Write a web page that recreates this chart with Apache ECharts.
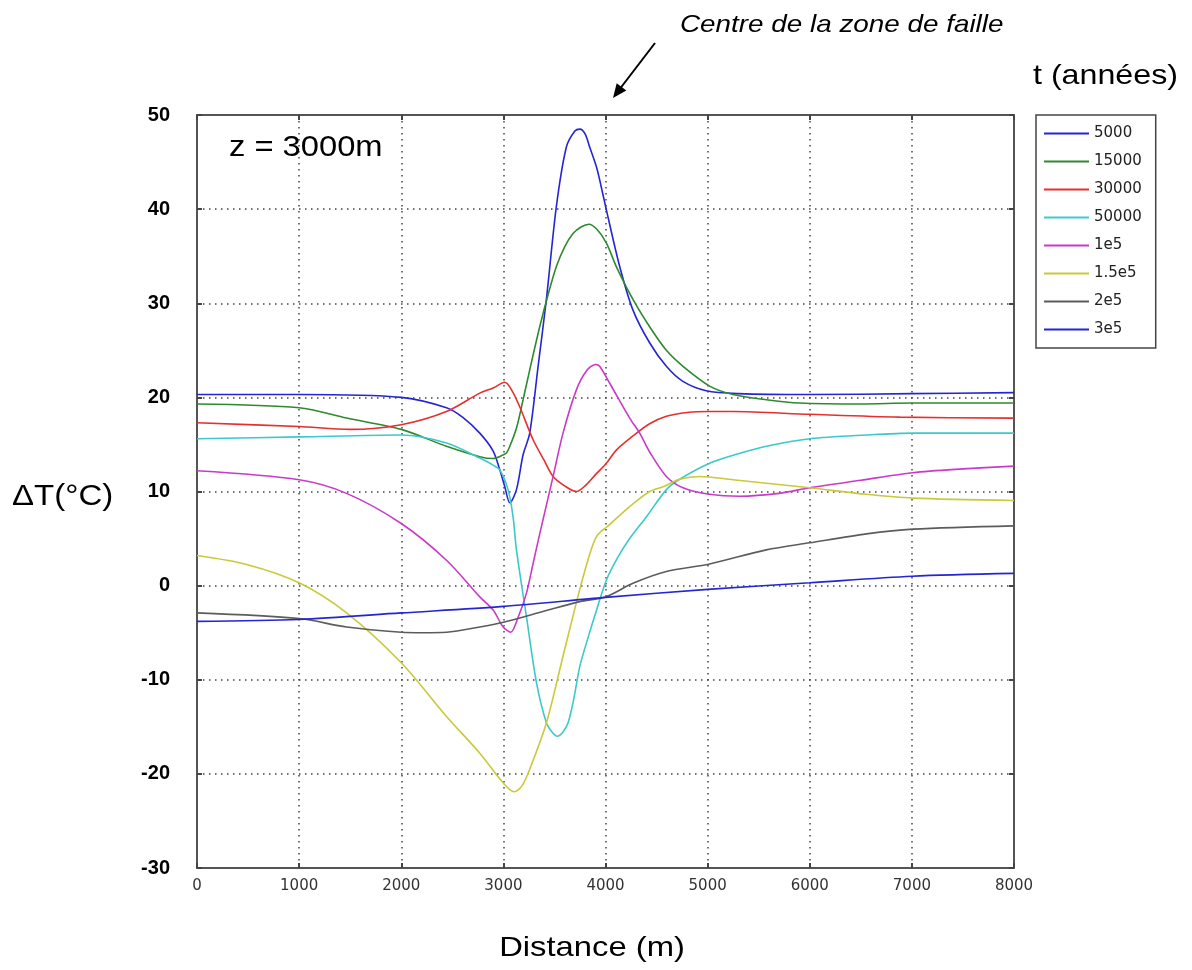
<!DOCTYPE html>
<html>
<head>
<meta charset="utf-8">
<script src="https://cdn.jsdelivr.net/npm/echarts@6/dist/echarts.min.js"></script>
<style>
html,body{margin:0;padding:0;background:#fff;}
#chart{width:1192px;height:970px;}
</style>
</head>
<body>
<div id="chart"></div>
<script>
// ---- data (x in m, ΔT in °C) ----
const seriesNames = ['5000','15000','30000','50000','1e5','1.5e5','2e5','3e5'];
const seriesColors = ['#2525d4','#2e8a2e','#e5302e','#3cc9c9','#c93ac9','#c9c93b','#5c5c5c','#2525d4'];

const x5000 = [0,1000,2000,2443,2600,2769,2900,2965,3014,3063,3128,3193,3258,3340,3421,3519,3617,3700,3748,3800,3845,3911,3943,4009,4139,4268,4432,4596,4758,4987,5300,6000,7000,8000];
const y5000 = [20.3,20.3,20.0,18.9,17.9,16.2,14.3,12.3,10.5,8.8,10.2,13.9,16.2,23.3,30.4,40.3,46.6,48.3,48.5,48.0,46.6,44.5,43.1,39.9,33.9,29.3,25.8,23.3,21.7,20.7,20.4,20.3,20.4,20.5];

const x15000 = [0,1000,1465,2000,2443,2769,2900,2981,3030,3063,3130,3193,3270,3356,3440,3519,3600,3682,3760,3839,3920,4009,4106,4269,4432,4596,4759,5020,5248,5574,5900,6500,7000,8000];
const y15000 = [19.3,18.9,17.8,16.6,14.8,13.7,13.5,13.8,14.1,14.8,16.8,19.75,23.5,27.5,31.0,33.9,36.0,37.4,38.1,38.4,37.8,36.4,33.9,30.4,27.5,25.0,23.3,21.2,20.3,19.75,19.4,19.3,19.4,19.4];

const x30000 = [0,1000,1500,2000,2443,2769,2900,3014,3080,3160,3291,3400,3487,3600,3715,3800,3911,4009,4106,4269,4432,4596,4800,5020,5248,6000,6880,8000];
const y30000 = [17.3,16.9,16.6,17.1,18.5,20.45,21.0,21.6,20.8,19.0,15.5,13.3,11.6,10.6,10.0,10.6,11.9,13.0,14.4,15.9,17.2,18.0,18.4,18.5,18.5,18.2,17.9,17.8];

const x50000 = [0,1000,2000,2443,2769,2900,2965,3046,3095,3128,3226,3324,3422,3480,3529,3580,3633,3690,3748,3830,3911,4009,4120,4237,4400,4596,4726,5020,5300,5574,6000,6555,7010,8000];
const y50000 = [15.6,15.8,16.0,15.15,13.55,12.8,12.3,10.2,7.3,3.8,-3.3,-10.3,-14.6,-15.6,-16.0,-15.6,-14.6,-12.0,-8.6,-5.5,-2.65,0.6,3.0,5.0,7.3,10.2,11.3,13.0,14.0,14.8,15.6,16.0,16.2,16.2];

const x1e5 = [0,1000,1465,2000,2443,2769,2900,2998,3072,3140,3226,3290,3356,3487,3584,3715,3820,3904,3943,4041,4237,4335,4432,4596,4759,5020,5313,5700,6000,6500,7010,7500,8000];
const y1e5 = [12.2,11.25,9.8,6.6,2.7,-1.2,-2.6,-4.4,-4.95,-3.5,-0.8,2.3,5.5,11.6,16.2,20.8,22.9,23.5,23.3,21.5,17.8,16.2,14.2,11.6,10.4,9.7,9.5,9.8,10.4,11.2,12.0,12.4,12.7];

const x15e5 = [0,486,1000,1465,2000,2443,2769,2998,3105,3180,3258,3421,3584,3748,3850,3911,3960,4009,4237,4432,4563,4726,4922,5248,6000,6555,7010,8000];
const y15e5 = [3.2,2.25,0.3,-2.9,-8.2,-13.9,-17.8,-20.95,-21.9,-21.3,-19.5,-14.6,-7.5,-0.4,3.5,5.2,5.8,6.2,8.4,10.0,10.5,11.3,11.6,11.25,10.4,9.7,9.3,9.05];

const x2e5 = [0,1000,1465,2000,2216,2443,2769,3000,3421,3748,4000,4269,4596,5020,5574,6000,6555,7010,8000];
const y2e5 = [-2.9,-3.5,-4.4,-4.95,-5.0,-4.95,-4.4,-3.9,-2.65,-1.7,-1.2,0.25,1.5,2.3,3.8,4.55,5.5,6.0,6.35];

const x3e5 = [0,1000,2000,3000,4000,5000,6000,7000,8000];
const y3e5 = [-3.8,-3.6,-2.9,-2.2,-1.25,-0.4,0.3,1.0,1.3];

const allX = [x5000,x15000,x30000,x50000,x1e5,x15e5,x2e5,x3e5];
const allY = [y5000,y15000,y30000,y50000,y1e5,y15e5,y2e5,y3e5];

const xMin = 0, xMax = 8000, xStep = 1000;
const yMin = -30, yMax = 50, yStep = 10;

// ---- chart ----
const chart = echarts.init(document.getElementById('chart'), null, {renderer:'canvas'});

const series = seriesNames.map((name, i) => ({
  name: name,
  type: 'line',
  xAxisIndex: 0,
  yAxisIndex: 0,
  data: allX[i].map((x, k) => [x, allY[i][k]]),
  showSymbol: false,
  symbol: 'none',
  smooth: 0.3,
  lineStyle: { color: seriesColors[i], width: 1.6 },
  itemStyle: { color: seriesColors[i] },
  z: 3
}));

const dotted = { color: '#444', width: 1.5, type: [1.5, 4.5] };
const boxLine = { show: true, onZero: false, lineStyle: { color: '#555', width: 2 } };
const inTick = { show: true, inside: true, length: 5, lineStyle: { color: '#444', width: 2 } };

const option = {
  animation: false,
  backgroundColor: '#fff',
  grid: { left: 197, right: 178, top: 115, bottom: 102, containLabel: false },
  legend: {
    orient: 'vertical',
    left: 1036,
    top: 115,
    data: seriesNames,
    icon: 'rect',
    itemWidth: 45,
    itemHeight: 2,
    itemGap: 13,
    padding: [11, 14, 11, 8],
    borderColor: '#444',
    borderWidth: 1.5,
    backgroundColor: '#fff',
    selectedMode: false,
    textStyle: { fontFamily: 'DejaVu Sans', fontSize: 15, color: '#222' }
  },
  xAxis: [
    {
      type: 'value', position: 'bottom', min: xMin, max: xMax, interval: xStep,
      axisLine: boxLine, axisTick: inTick,
      axisLabel: { margin: 11, fontFamily: 'DejaVu Sans', fontSize: 15, color: '#333',
        formatter: v => String(v) },
      splitLine: { show: true, lineStyle: dotted }
    },
    {
      type: 'value', position: 'top', min: xMin, max: xMax, interval: xStep,
      axisLine: boxLine, axisTick: inTick,
      axisLabel: { show: false }, splitLine: { show: false }
    }
  ],
  yAxis: [
    {
      type: 'value', position: 'left', min: yMin, max: yMax, interval: yStep,
      axisLine: boxLine, axisTick: inTick,
      axisLabel: { margin: 27, fontFamily: 'Liberation Sans', fontWeight: 'bold', fontSize: 20, color: '#000' },
      splitLine: { show: true, lineStyle: dotted }
    },
    {
      type: 'value', position: 'right', min: yMin, max: yMax, interval: yStep,
      axisLine: boxLine, axisTick: inTick,
      axisLabel: { show: false }, splitLine: { show: false }
    }
  ],
  series: series,
  graphic: [
    { type: 'text', x: 680, y: 25, scaleX: 1.16,
      style: { text: 'Centre de la zone de faille', fontFamily: 'Liberation Sans', fontStyle: 'italic', fontSize: 24, fill: '#000', textAlign: 'left', textVerticalAlign: 'middle' } },
    { type: 'line', shape: { x1: 655, y1: 43, x2: 619, y2: 90 }, style: { stroke: '#000', lineWidth: 2 } },
    { type: 'polygon', shape: { points: [[613, 98], [626.3, 90.5], [616.7, 83.3]] }, style: { fill: '#000' } },
    { type: 'text', x: 1033, y: 76, scaleX: 1.15,
      style: { text: 't (années)', fontFamily: 'Liberation Sans', fontSize: 28, fill: '#000', textAlign: 'left', textVerticalAlign: 'middle' } },
    { type: 'text', x: 229, y: 148, scaleX: 1.09, z: 10,
      style: { text: 'z = 3000m', fontFamily: 'Liberation Sans', fontSize: 30, fill: '#000', textAlign: 'left', textVerticalAlign: 'middle' } },
    { type: 'text', x: 12, y: 497, scaleX: 1.1,
      style: { text: 'ΔT(°C)', fontFamily: 'Liberation Sans', fontSize: 30, fill: '#000', textAlign: 'left', textVerticalAlign: 'middle' } },
    { type: 'text', x: 592, y: 948, scaleX: 1.17,
      style: { text: 'Distance (m)', fontFamily: 'Liberation Sans', fontSize: 28, fill: '#000', textAlign: 'center', textVerticalAlign: 'middle' } }
  ]
};

chart.setOption(option);
</script>
</body>
</html>
